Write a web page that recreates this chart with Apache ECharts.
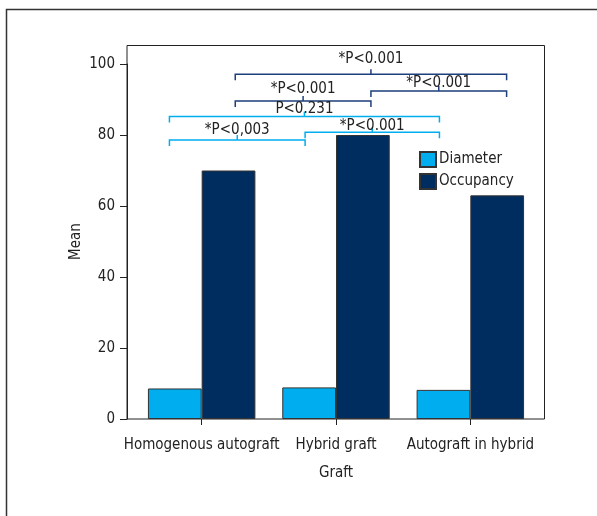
<!DOCTYPE html>
<html>
<head>
<meta charset="utf-8">
<script src="https://cdn.jsdelivr.net/npm/echarts@6/dist/echarts.min.js"></script>
<style>
  html, body { margin: 0; padding: 0; background: #fff; }
  #chart { width: 597px; height: 516px; }
</style>
</head>
<body>
<div id="chart"></div>
<script>
const FONT = "'DejaVu Sans Condensed', 'Liberation Sans Narrow', sans-serif";
const FS = 15;

const categories = ["Homogenous autograft", "Hybrid graft", "Autograft in hybrid"];
const diameter = [8.6, 8.9, 8.2];
const occupancy = [70, 80, 63];
const yTicks = [0, 20, 40, 60, 80, 100];

// significance brackets: ends in category units (index +/- offset), level in "Mean" units
const bracketFrom = [0.25, 0.25, 1.26, -0.24, -0.24, 0.77];
const bracketTo = [2.27, 1.26, 2.27, 1.77, 0.77, 1.77];
const bracketLevel = [97.1, 89.6, 92.4, 85.2, 78.6, 80.8];
const bracketLabelLevel = [101.4, 93.0, 94.6, 87.3, 81.4, 82.5];
const bracketText = ["*P<0.001", "*P<0.001", "*P<0.001", "P<0.231", "*P<0,003", "*P<0.001"];
const bracketDark = [true, true, true, false, false, false];

const DARK = "#002d5f";
const LIGHT = "#00aeef";
const BRACKET_DARK = "#1d3f7c";

const chart = echarts.init(document.getElementById("chart"));

function xPixel(api, v) {
  const idx = Math.round(v);
  const band = api.size([1, 0])[0];
  return api.coord([idx, 0])[0] + (v - idx) * band;
}

chart.setOption({
  animation: false,
  textStyle: { fontFamily: FONT },
  graphic: [{
    type: "polyline",
    shape: { points: [[6.5, 516], [6.5, 9.5], [597, 9.5]] },
    style: { stroke: "#333", lineWidth: 1.5, fill: null },
  }],
  legend: {
    orient: "vertical",
    left: 419, top: 151,
    padding: 0,
    itemWidth: 16, itemHeight: 15, itemGap: 5,
    icon: "rect",
    data: ["Diameter", "Occupancy"],
    textStyle: { fontSize: FS, color: "#222", fontFamily: FONT, padding: [0, 0, 0, -2] },
  },
  grid: [
    { left: 134.5, right: 59.5, top: 64, bottom: 97 },
    { left: 127, right: 52.5, top: 45.5, bottom: 97, show: true, borderColor: "#222", borderWidth: 1, backgroundColor: "transparent" },
  ],
  xAxis: [{
    type: "category",
    data: categories,
    gridIndex: 0,
    name: "Graft",
    nameLocation: "middle",
    nameGap: 47,
    nameMoveOverlap: false,
    nameTextStyle: { fontSize: FS, color: "#222", fontFamily: FONT },
    axisLine: { show: false },
    axisTick: { show: true, alignWithLabel: true, length: 6, lineStyle: { color: "#222" } },
    axisLabel: { fontSize: FS, color: "#222", margin: 19, interval: 0, fontFamily: FONT },
  }, {
    type: "value", gridIndex: 1, show: false,
  }],
  yAxis: [{
    type: "value",
    gridIndex: 0,
    min: yTicks[0], max: yTicks[yTicks.length - 1], interval: 20,
    offset: 7.5,
    name: "Mean",
    nameLocation: "middle",
    nameGap: 43,
    nameMoveOverlap: false,
    nameTextStyle: { fontSize: FS, color: "#222", fontFamily: FONT },
    axisLine: { show: true, lineStyle: { color: "#222" } },
    axisTick: { show: true, length: 7, lineStyle: { color: "#222" } },
    axisLabel: { fontSize: FS, color: "#222", margin: 12, fontFamily: FONT },
    splitLine: { show: false },
  }, {
    type: "value", gridIndex: 1, show: false,
  }],
  series: [
    {
      name: "Diameter", type: "bar", data: diameter,
      barGap: 0, barCategoryGap: "20%",
      itemStyle: { color: LIGHT, borderColor: "#333", borderWidth: 1 },
    },
    {
      name: "Occupancy", type: "bar", data: occupancy,
      barGap: 0, barCategoryGap: "20%",
      itemStyle: { color: DARK, borderColor: "#333", borderWidth: 1 },
    },
    {
      name: "brackets", type: "custom", clip: false, z: 5,
      data: bracketLevel.map((v) => [1, v]),
      renderItem(params, api) {
        const i = params.dataIndex;
        const x1 = xPixel(api, bracketFrom[i]);
        const x2 = xPixel(api, bracketTo[i]);
        const y = api.coord([0, bracketLevel[i]])[1];
        const ly = api.coord([0, bracketLabelLevel[i]])[1];
        const mid = (x1 + x2) / 2;
        const color = bracketDark[i] ? BRACKET_DARK : LIGHT;
        return {
          type: "group",
          children: [
            {
              type: "polyline",
              shape: { points: [[x1, y + 6], [x1, y], [x2, y], [x2, y + 6]] },
              style: { stroke: color, lineWidth: 1.5, fill: null },
            },
            {
              type: "line",
              shape: { x1: mid, y1: y, x2: mid, y2: y - 5 },
              style: { stroke: color, lineWidth: 1.5 },
            },
            {
              type: "text",
              style: {
                x: mid, y: ly, text: bracketText[i],
                align: "center", verticalAlign: "middle",
                font: FS + "px " + FONT, fill: "#222",
              },
            },
          ],
        };
      },
    },
  ],
});
</script>
</body>
</html>
